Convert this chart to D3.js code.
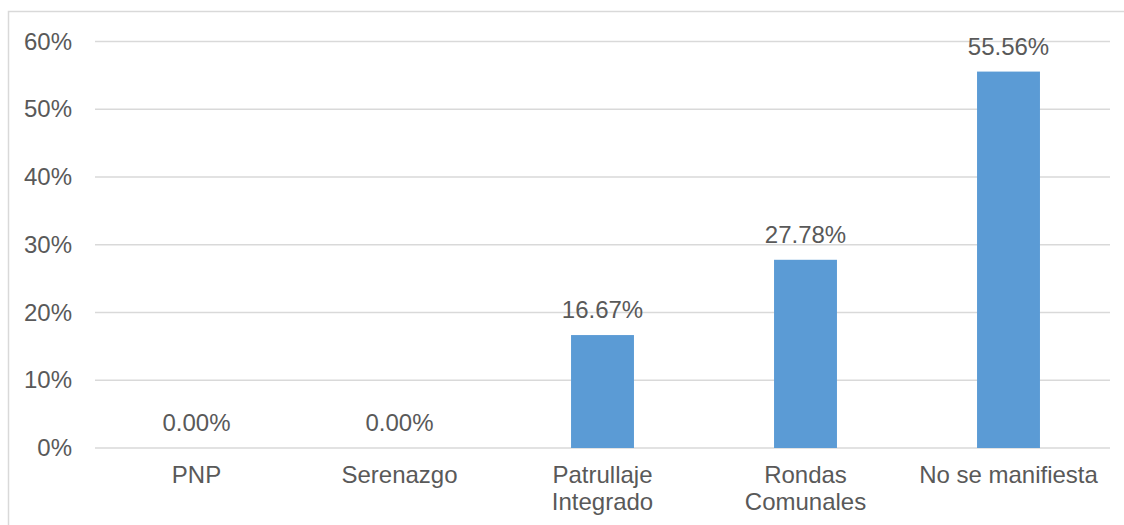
<!DOCTYPE html>
<html>
<head>
<meta charset="utf-8">
<script src="https://cdn.jsdelivr.net/npm/d3@7"></script>
<style>
  html, body { margin: 0; padding: 0; background: #fff; }
  svg { display: block; }
  text { font-family: "Liberation Sans", Arial, sans-serif; fill: #595959; }
</style>
</head>
<body>
<svg id="chart" width="1124" height="525"></svg>
<script>
// Categories (line breaks in labels marked with \n)
const categories = ["PNP", "Serenazgo", "Patrullaje\nIntegrado", "Rondas\nComunales", "No se manifiesta"];
// Share of responses, in percent
const values = [0.00, 0.00, 16.67, 27.78, 55.56];
// Y axis ticks, in percent
const yTicks = [0, 10, 20, 30, 40, 50, 60];

const W = 1124, H = 525;
const margin = { top: 41.5, right: 14, bottom: 77, left: 95 };
const plotW = W - margin.left - margin.right;
const plotH = H - margin.top - margin.bottom;
const FONT = "24px";

const svg = d3.select("#chart");

// outer chart frame
svg.append("rect")
  .attr("x", 8.5).attr("y", 11.5)
  .attr("width", 1140).attr("height", 600)
  .attr("fill", "none")
  .attr("stroke", "#d9d9d9")
  .attr("stroke-width", 1.5);

const g = svg.append("g").attr("transform", `translate(${margin.left},${margin.top})`);

const x = d3.scaleBand().domain(categories).range([0, plotW]).paddingInner(0.69).paddingOuter(0.345);
const y = d3.scaleLinear().domain([0, 60]).range([plotH, 0]);

// horizontal gridlines
g.selectAll("line.grid")
  .data(yTicks)
  .join("line")
  .attr("class", "grid")
  .attr("x1", 0).attr("x2", plotW)
  .attr("y1", d => y(d)).attr("y2", d => y(d))
  .attr("stroke", "#d9d9d9")
  .attr("stroke-width", 1.5);

// y axis labels
const yAxis = d3.axisLeft(y).tickValues(yTicks).tickFormat(d => d + "%").tickSize(0).tickPadding(23);
const ya = g.append("g").call(yAxis);
ya.select(".domain").remove();
ya.selectAll("text")
  .style("font-size", FONT)
  .style("font-family", "'Liberation Sans', Arial, sans-serif")
  .attr("fill", "#595959");

// bars
g.selectAll("rect.bar")
  .data(values)
  .join("rect")
  .attr("class", "bar")
  .attr("x", (d, i) => x(categories[i]))
  .attr("width", x.bandwidth())
  .attr("y", d => y(d))
  .attr("height", d => plotH - y(d))
  .attr("fill", "#5B9BD5");

// value labels
g.selectAll("text.val")
  .data(values)
  .join("text")
  .attr("class", "val")
  .attr("x", (d, i) => x(categories[i]) + x.bandwidth() / 2)
  .attr("y", d => y(d) - 17)
  .attr("text-anchor", "middle")
  .style("font-size", FONT)
  .text(d => d.toFixed(2) + "%");

// category labels
const cat = g.selectAll("text.cat")
  .data(categories)
  .join("text")
  .attr("class", "cat")
  .attr("x", d => x(d) + x.bandwidth() / 2)
  .attr("y", plotH + 35)
  .attr("text-anchor", "middle")
  .style("font-size", FONT);
cat.each(function(d) {
  const lines = d.split("\n");
  const t = d3.select(this);
  lines.forEach((ln, k) => {
    t.append("tspan")
      .attr("x", t.attr("x"))
      .attr("dy", k === 0 ? 0 : 27)
      .text(ln);
  });
});
</script>
</body>
</html>
